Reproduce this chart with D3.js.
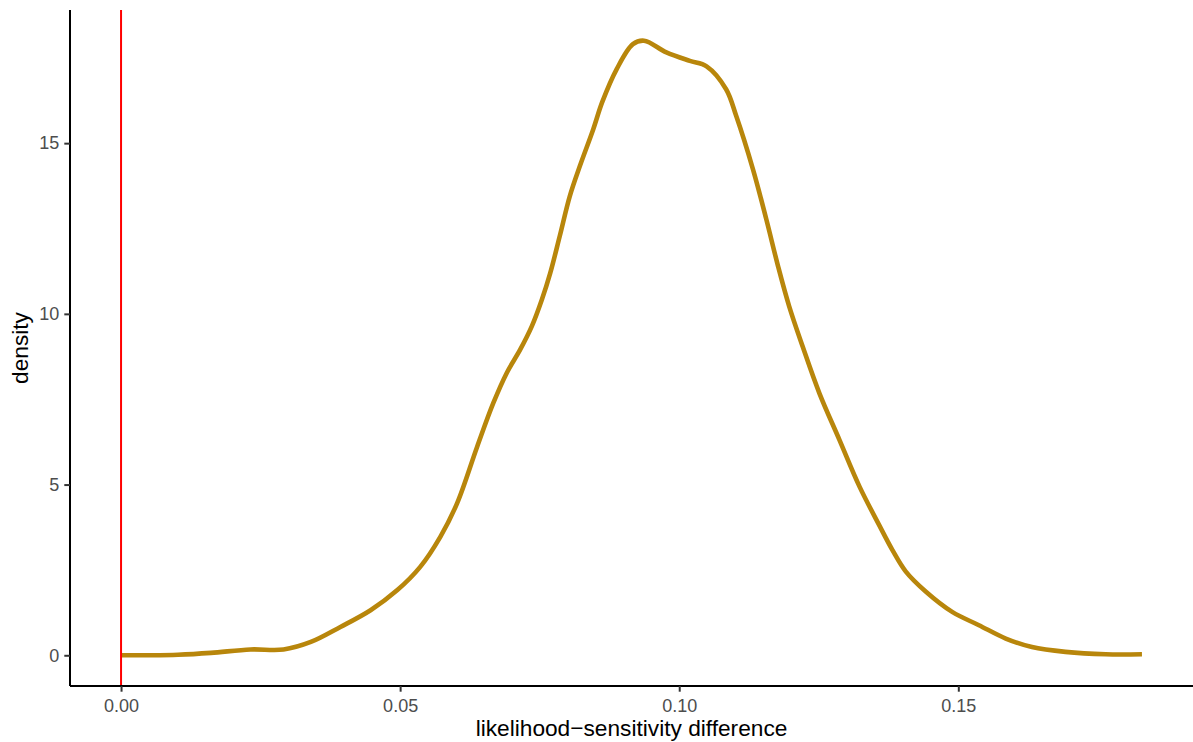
<!DOCTYPE html>
<html>
<head>
<meta charset="utf-8">
<script src="https://cdn.jsdelivr.net/npm/d3@7"></script>
<style>
  html, body { margin: 0; padding: 0; background: #fff; }
  svg { display: block; font-family: "Liberation Sans", Arial, Helvetica, sans-serif; }
</style>
</head>
<body>
<svg id="chart" width="1193" height="742"></svg>
<script>
// Kernel density estimate of the likelihood-sensitivity difference
const diffValues = [0, 0.0054, 0.0102, 0.0161, 0.0232, 0.0291, 0.034, 0.0393, 0.0447,
  0.0495, 0.0536, 0.0572, 0.0602, 0.0638, 0.0667, 0.0691, 0.0715, 0.0736,
  0.0754, 0.0769, 0.0786, 0.0804, 0.0822, 0.0846, 0.0862, 0.0888, 0.0917,
  0.0937, 0.0977, 0.1019, 0.1049, 0.1084, 0.1102, 0.1132,
  0.1156, 0.1177, 0.1197, 0.1221, 0.1251, 0.1287, 0.1323, 0.1358, 0.1382, 0.1406,
  0.1442, 0.1489, 0.1537, 0.1585, 0.1632, 0.1692, 0.1764, 0.1829];
const densityValues = [0, 0, 0.015, 0.07, 0.17, 0.17, 0.39, 0.83, 1.32,
  1.91, 2.59, 3.47, 4.45, 6.11, 7.39, 8.27, 8.95, 9.64,
  10.42, 11.2, 12.28, 13.45, 14.33, 15.41, 16.2, 17.17, 17.9,
  18.0, 17.66, 17.41, 17.25, 16.58, 15.8, 14.24,
  12.77, 11.4, 10.22, 9.05, 7.68, 6.31, 4.94, 3.82, 3.08, 2.45,
  1.86, 1.27, 0.88, 0.49, 0.24, 0.1, 0.03, 0.03];

const xTicks = [0, 0.05, 0.10, 0.15];
const xTickLabels = ["0.00", "0.05", "0.10", "0.15"];
const yTicks = [0, 5, 10, 15];
const yTickLabels = ["0", "5", "10", "15"];
const referenceLine = [0];

const width = 1193, height = 742;
const margin = { top: 10, right: 0, bottom: 56, left: 70 };

const svg = d3.select("#chart");

// 5% padding on both scales, as in the usual density plot defaults
const xMin = d3.min(diffValues), xMax = d3.max(diffValues);
const xPad = (xMax - xMin) * 0.05;
const yMin = 0, yMax = d3.max(densityValues);
const yPad = (yMax - yMin) * 0.05;

const x = d3.scaleLinear()
  .domain([xMin - xPad, xMax + xPad])
  .range([margin.left, width - margin.right]);
const y = d3.scaleLinear()
  .domain([yMin - yPad, yMax + yPad])
  .range([height - margin.bottom, margin.top]);

const points = diffValues.map((d, i) => ({ x: d, y: densityValues[i] }));

// density curve
const line = d3.line()
  .x(d => x(d.x))
  .y(d => y(d.y))
  .curve(d3.curveCatmullRom.alpha(0.5));

svg.append("path")
  .datum(points)
  .attr("fill", "none")
  .attr("stroke", "#B8860B")
  .attr("stroke-width", 4.6)
  .attr("stroke-linejoin", "round")
  .attr("d", line);

// vertical reference at zero
svg.selectAll("line.ref")
  .data(referenceLine)
  .join("line")
  .attr("class", "ref")
  .attr("x1", d => x(d)).attr("x2", d => x(d))
  .attr("y1", margin.top).attr("y2", height - margin.bottom)
  .attr("stroke", "#FF0000")
  .attr("stroke-width", 2);

// axes
const xAxis = d3.axisBottom(x)
  .tickValues(xTicks)
  .tickFormat((d, i) => xTickLabels[i])
  .tickSizeInner(5.7).tickSizeOuter(0).tickPadding(7.5);
const yAxis = d3.axisLeft(y)
  .tickValues(yTicks)
  .tickFormat((d, i) => yTickLabels[i])
  .tickSizeInner(5.7).tickSizeOuter(0).tickPadding(5);

const gx = svg.append("g")
  .attr("transform", `translate(0,${height - margin.bottom})`)
  .call(xAxis);
const gy = svg.append("g")
  .attr("transform", `translate(${margin.left},0)`)
  .call(yAxis);

[gx, gy].forEach(g => {
  g.attr("font-size", null).attr("font-family", null);
  g.select(".domain").attr("stroke", "#000").attr("stroke-width", 2);
  g.selectAll(".tick line").attr("stroke", "#333").attr("stroke-width", 2);
  g.selectAll(".tick text")
    .attr("fill", "#4D4D4D")
    .style("font-size", "18px")
    .style("font-family", "'Liberation Sans', Arial, sans-serif");
});

// extend axis lines across the full panel
gx.select(".domain").attr("d", `M${margin.left},0H${width - margin.right}`);
gy.select(".domain").attr("d", `M0,${margin.top}V${height - margin.bottom}`);

// axis titles
svg.append("text")
  .attr("x", (margin.left + width - margin.right) / 2)
  .attr("y", 735.5)
  .attr("text-anchor", "middle")
  .attr("fill", "#000")
  .style("font-size", "22.7px")
  .text("likelihood\u2212sensitivity difference");

svg.append("text")
  .attr("transform", `translate(27.5,${(margin.top + height - margin.bottom) / 2}) rotate(-90)`)
  .attr("text-anchor", "middle")
  .attr("fill", "#000")
  .style("font-size", "22.7px")
  .text("density");
</script>
</body>
</html>
